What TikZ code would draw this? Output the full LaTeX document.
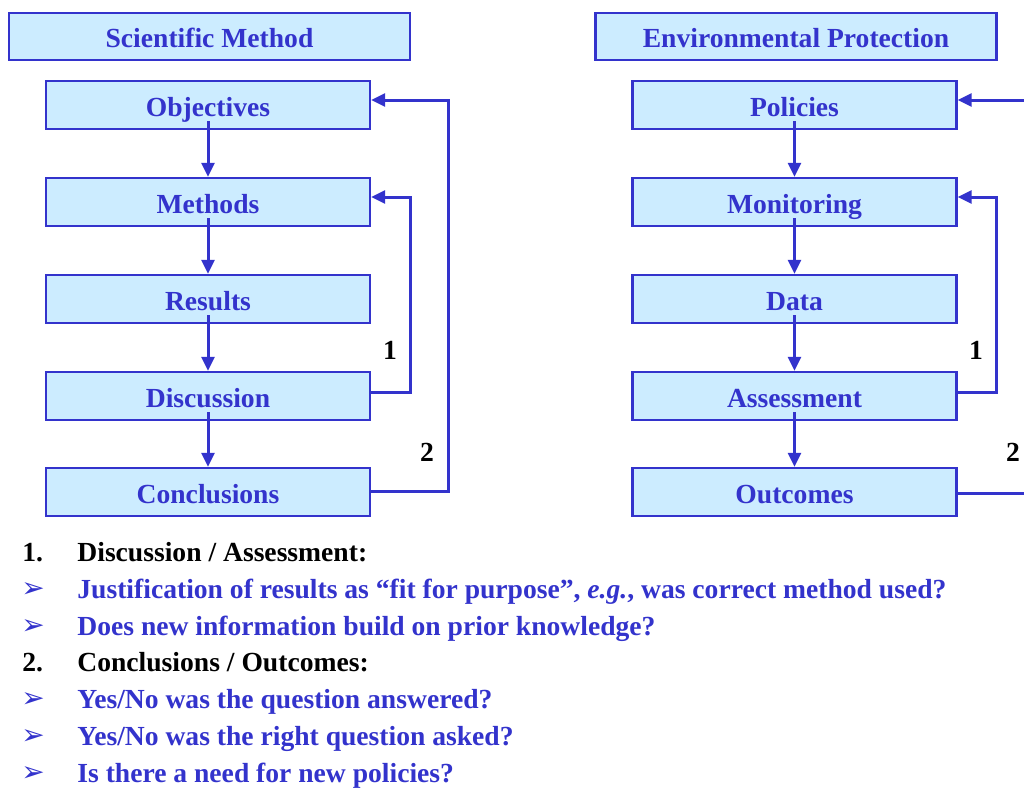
\documentclass[tikz,border=0pt]{standalone}
\usepackage{fontspec}
\setmainfont{Liberation Serif}
\newfontfamily\symbfont{DejaVu Sans}
\usepackage{xcolor}
\usetikzlibrary{arrows.meta}
\definecolor{boxblue}{HTML}{CCECFF}
\definecolor{lineblue}{HTML}{3333CC}
\newcommand{\bodyfont}{\fontsize{13.8}{16}\selectfont\bfseries}

\begin{document}
\begin{tikzpicture}[x=0.5pt,y=-0.5pt,
    box/.style={draw=lineblue, fill=boxblue, line width=1.2pt, minimum width=162pt,
        minimum height=24pt, inner sep=0pt, text height=11.5pt, text depth=0pt,
        font=\bodyfont, text=lineblue},
    titlebox/.style={box, minimum width=200.5pt, minimum height=23.5pt, text height=11pt},
    link/.style={draw=lineblue, line width=1.5pt, -{Triangle[length=7pt,width=6.5pt]}},
    feed/.style={draw=lineblue, line width=1.5pt},
    loopnum/.style={font=\bodyfont, text=black},
    numline/.style={anchor=base west, font=\bodyfont, text=black, inner sep=0pt},
    bulline/.style={anchor=base west, font=\bodyfont, text=lineblue, inner sep=0pt},
    bul/.style={anchor=base west, font=\symbfont\fontsize{14}{15}\selectfont, text=lineblue, inner sep=0pt}]
    \useasboundingbox (0,0) rectangle (1024,788);

    % scientific method
    \node[titlebox] (sm) at (209.5,36.5) {Scientific Method};
    \node[box] (obj) at (208,105) {Objectives};
    \node[box] (meth) at (208,202) {Methods};
    \node[box] (res) at (208,299) {Results};
    \node[box] (disc) at (208,396) {Discussion};
    \node[box] (conc) at (208,492) {Conclusions};

    \draw[link] ([yshift=4.5pt]obj.south) -- (meth.north);
    \draw[link] ([yshift=4.5pt]meth.south) -- (res.north);
    \draw[link] ([yshift=4.5pt]res.south) -- (disc.north);
    \draw[link] ([yshift=4.5pt]disc.south) -- (conc.north);
    \draw[link] ([yshift=2pt]disc.east) -- ++(39,0) |- ([yshift=2.5pt]meth.east);
    \draw[link] ([yshift=0.5pt]conc.east) -- ++(77,0) |- ([yshift=2.5pt]obj.east);
    \node[loopnum] (one) at (390,350) {1};
    \node[loopnum] (two) at (427,452) {2};

    % environmental protection
    \node[titlebox] (ep) at (796,36.5) {Environmental Protection};
    \node[box] (pol) at (794.5,105) {Policies};
    \node[box] (mon) at (794.5,202) {Monitoring};
    \node[box] (dat) at (794.5,299) {Data};
    \node[box] (ass) at (794.5,396) {Assessment};
    \node[box] (outc) at (794.5,492) {Outcomes};

    \draw[link] ([yshift=4.5pt]pol.south) -- (mon.north);
    \draw[link] ([yshift=4.5pt]mon.south) -- (dat.north);
    \draw[link] ([yshift=4.5pt]dat.south) -- (ass.north);
    \draw[link] ([yshift=4.5pt]ass.south) -- (outc.north);
    \draw[link] ([yshift=2pt]ass.east) -- ++(39,0) |- ([yshift=2.5pt]mon.east);
    \coordinate (edgetop) at (1024,100);
    \coordinate (edgebot) at (1024,493);
    \draw[link] (edgetop) -- ([yshift=2.5pt]pol.east);
    \draw[feed] ([yshift=-0.5pt]outc.east) -- (edgebot);
    \node[loopnum] (oneb) at (976,350) {1};
    \node[loopnum] (twob) at (1013,452) {2};

    % notes
    \node[numline] (n1) at (22,561) {1.};
    \node[numline] (t1) at (77,561) {Discussion / Assessment:};
    \node[bul] (b1) at (21,597) {➢};
    \node[bulline] (t2) at (77,598) {Justification of results as “fit for purpose”, \textit{e.g.}, was correct method used?};
    \node[bul] (b2) at (21,634) {➢};
    \node[bulline] (t3) at (77,635) {Does new information build on prior knowledge?};
    \node[numline] (n2) at (22,671) {2.};
    \node[numline] (t4) at (77,671) {Conclusions / Outcomes:};
    \node[bul] (b3) at (21,707) {➢};
    \node[bulline] (t5) at (77,708) {Yes/No was the question answered?};
    \node[bul] (b4) at (21,744) {➢};
    \node[bulline] (t6) at (77,745) {Yes/No was the right question asked?};
    \node[bul] (b5) at (21,781) {➢};
    \node[bulline] (t7) at (77,782) {Is there a need for new policies?};
\end{tikzpicture}
\end{document}
